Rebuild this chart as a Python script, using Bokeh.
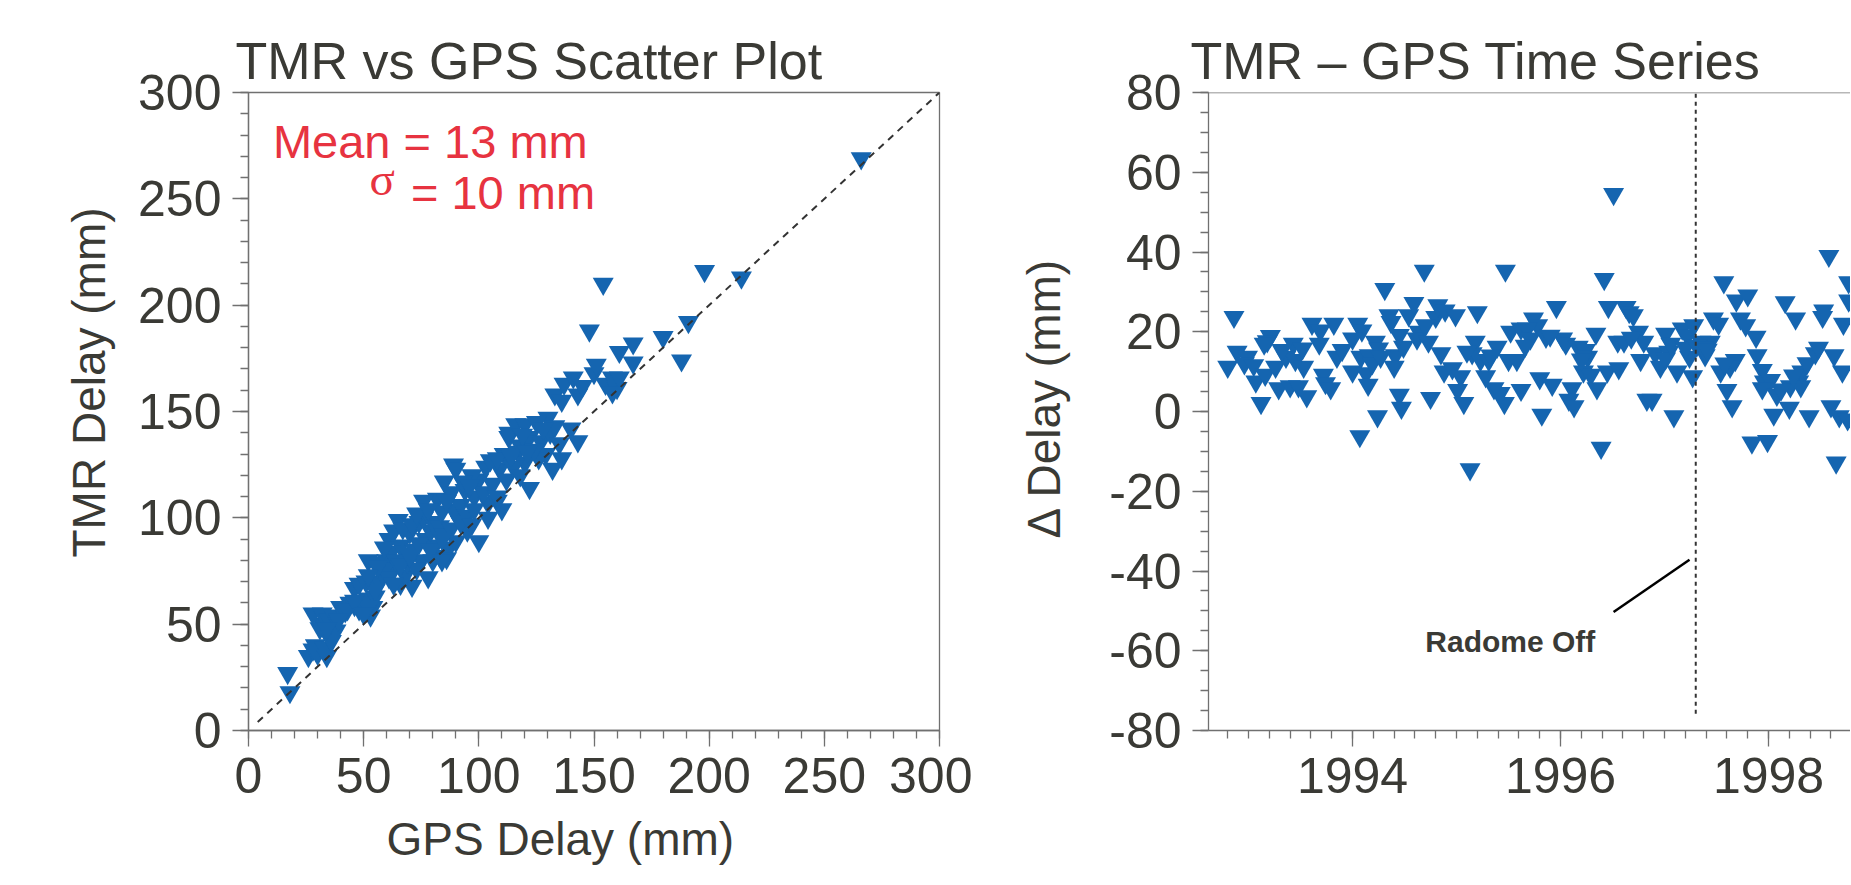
import math
from bokeh.plotting import figure
from bokeh.layouts import row
from bokeh.models import FixedTicker, Label, Span, Range1d, Title
from bokeh.embed import file_html
from bokeh.resources import INLINE

# ---------------- data: scatter (GPS vs TMR delay, mm) ----------------
gps_delay = [17, 18, 26, 28, 29, 30, 33, 34, 35, 32, 31, 28, 32, 35, 37, 38, 40, 42, 44, 46,
             48, 50, 53, 54, 52, 55, 46, 48, 51, 54, 57, 55, 52, 57, 60, 63, 58, 61, 66, 71,
             68, 63, 61, 65, 66, 70, 74, 77, 72, 75, 69, 73, 78, 80, 83, 81, 79, 76, 80, 83,
             85, 87, 86, 90, 88, 91, 89, 92, 82, 76, 84, 85, 89, 90, 88, 94, 95, 98, 100, 103,
             109, 97, 104, 110, 100, 104, 108, 95, 98, 102, 106, 108, 112, 111, 113, 113, 116, 120, 117, 118,
             122, 122, 127, 130, 131, 133, 129, 126, 120, 115, 118, 124, 135, 140, 143, 132, 136, 133, 136, 137,
             141, 143, 145, 150, 151, 155, 158, 160, 161, 158, 161, 167, 167, 148, 154, 180, 188, 191, 198, 214,
             266, 125, 128, 119, 62, 59, 67, 71, 73, 78, 86, 93, 96, 105, 108, 114, 121, 68, 64, 56,
             52, 43, 39, 36, 34, 74, 79, 84, 92, 97, 66, 70, 84, 63, 52, 46, 50]
tmr_delay = [27, 18, 35, 38, 40, 36, 39, 35, 44, 50, 48, 55, 55, 52, 54, 47, 58, 56, 60, 59,
             57, 60, 54, 58, 62, 63, 67, 69, 70, 69, 70, 66, 80, 79, 80, 76, 74, 72, 69, 68,
             73, 94, 90, 99, 87, 93, 98, 90, 85, 80, 79, 76, 72, 80, 82, 87, 94, 100, 98, 96,
             92, 86, 81, 89, 95, 100, 104, 106, 109, 108, 103, 117, 125, 123, 112, 113, 101, 110, 118, 124,
             123, 120, 107, 104, 89, 100, 108, 94, 104, 112, 116, 110, 118, 130, 138, 140, 144, 144, 131, 134,
             138, 114, 136, 147, 140, 143, 130, 128, 126, 124, 120, 132, 135, 142, 136, 123, 128, 158, 155, 163,
             166, 158, 162, 168, 172, 163, 166, 161, 166, 159, 178, 182, 173, 188, 210, 185, 174, 192, 216, 213,
             269, 145, 142, 139, 84, 86, 95, 97, 102, 104, 108, 117, 115, 127, 128, 129, 131, 83, 80, 77,
             73, 57, 52, 42, 48, 88, 85, 90, 98, 97, 78, 82, 80, 69, 58, 61, 55]

# ---------------- data: time series (TMR - GPS, mm) ----------------
ts_year = [1992.86, 1992.80, 1992.89, 1992.99, 1992.96, 1993.05, 1993.07, 1993.12, 1993.16, 1993.21,
           1993.18, 1993.26, 1993.29, 1993.36, 1993.43, 1993.40, 1993.48, 1993.45, 1993.53, 1993.56,
           1993.52, 1993.61, 1993.69, 1993.68, 1993.82, 1993.72, 1993.74, 1993.79, 1993.85, 1993.90,
           1994.00, 1994.05, 1994.09, 1994.00, 1994.08, 1994.13, 1994.15, 1994.07, 1994.16, 1994.22,
           1994.25, 1994.24, 1994.31, 1994.35, 1994.37, 1994.41, 1994.40, 1994.45, 1994.47, 1994.49,
           1994.54, 1994.59, 1994.69, 1994.64, 1994.62, 1994.73, 1994.75, 1994.80, 1994.82, 1994.85,
           1994.89, 1994.88, 1994.96, 1994.99, 1995.04, 1995.01, 1995.07, 1995.13, 1995.20, 1995.18,
           1995.15, 1995.23, 1995.28, 1995.31, 1995.36, 1995.39, 1995.46, 1995.42, 1995.47, 1995.50,
           1995.52, 1995.58, 1995.62, 1995.62, 1995.74, 1995.78, 1995.68, 1995.71, 1995.86, 1995.80,
           1995.82, 1995.92, 1995.96, 1996.02, 1996.05, 1996.11, 1996.08, 1996.13, 1996.17, 1996.24,
           1996.26, 1996.22, 1996.29, 1996.34, 1996.35, 1996.39, 1996.42, 1996.46, 1996.45, 1996.55,
           1996.61, 1996.56, 1996.63, 1996.66, 1996.70, 1996.75, 1996.80, 1996.77, 1996.83, 1996.88,
           1996.91, 1996.96, 1997.01, 1997.04, 1997.01, 1997.09, 1997.12, 1997.17, 1997.22, 1997.24,
           1997.27, 1997.28, 1997.35, 1997.39, 1997.47, 1997.44, 1997.52, 1997.57, 1997.54, 1997.60,
           1997.65, 1997.68, 1997.63, 1997.69, 1997.80, 1997.73, 1997.78, 1997.88, 1997.89, 1997.84,
           1997.99, 1997.94, 1997.96, 1998.02, 1997.94, 1998.05, 1998.08, 1998.16, 1998.20, 1998.21,
           1998.26, 1998.29, 1998.31, 1998.32, 1998.37, 1998.39, 1998.45, 1998.53, 1998.52, 1998.58,
           1998.60, 1998.63, 1998.65, 1998.68, 1998.71, 1998.72, 1998.77, 1998.77, 1998.76, 1996.51,
           1993.15, 1993.32, 1994.19, 1994.27, 1994.45, 1994.70, 1995.10, 1995.33, 1995.66, 1995.90,
           1996.20, 1996.68, 1997.06, 1997.20, 1997.31, 1997.37, 1997.41, 1997.58, 1998.12, 1998.24,
           1998.48]
ts_delta = [23.7, 11.2, 15.0, 13.7, 12.1, 11.6, 7.5, 2.1, 9.2, 18.9,
            17.6, 11.2, 5.8, 13.7, 17.0, 6.3, 6.3, 12.9, 11.2, 3.8,
            15.8, 22.0, 20.3, 17.0, 22.0, 9.2, 7.1, 5.8, 13.7, 15.4,
            10.0, 22.0, 20.3, 18.3, 13.7, 9.6, 6.7, -6.2, 14.1, 17.5,
            15.8, -1.2, 30.7, 24.1, 22.4, 14.1, 11.2, 4.2, 0.9, 16.2,
            24.1, 27.2, 35.3, 20.0, 18.3, 17.5, 3.4, 23.7, 26.6, 14.6,
            25.3, 10.0, 10.8, 24.1, 8.8, 5.4, 2.1, -14.5, 24.9, 17.5,
            14.6, 12.9, 8.8, 12.9, 5.8, 16.2, 2.1, 4.6, 35.3, 12.9,
            20.0, 12.9, 5.4, 20.8, 23.3, 21.6, 20.8, 18.3, 18.7, 8.3,
            -0.8, 6.7, 26.2, 18.3, 17.0, 5.8, 2.9, 1.3, 16.2, 15.4,
            13.7, 10.0, 9.2, 19.5, 5.8, -9.1, 33.2, 26.2, 10.0, 17.5,
            17.5, 10.8, 26.2, 24.9, 24.1, 20.0, 17.5, 12.9, 2.9, 2.9,
            14.6, 11.2, 19.5, 15.0, 13.3, -1.2, 10.0, 20.8, 19.1, 13.7,
            8.8, 21.6, 17.5, 14.1, 23.3, 17.5, 22.0, 32.4, 10.0, 5.4,
            1.3, 12.9, 11.2, 27.8, 29.1, 23.3, 21.6, 18.7, 14.1, -7.8,
            -7.4, 10.4, 7.5, 7.9, 5.8, -0.8, 4.2, 27.4, 0.9, 6.3,
            23.3, 7.5, 6.3, 10.0, 12.1, -1.2, 14.6, 25.3, 23.7, 39.0,
            1.3, 14.1, -12.8, -1.2, 10.0, 22.0, 32.4, 27.8, -2.0, 54.5,
            17.0, 15.4, 12.1, 13.7, 19.2, 21.6, 15.0, 14.0, 16.5, 19.0,
            13.0, 18.5, 17.0, 16.0, 16.5, 16.0, 15.5, 12.0, 5.5, 9.0,
            16.0]

scatter_ticks = [0, 50, 100, 150, 200, 250, 300]
scatter_minor = list(range(0, 301, 10))
ts_xticks = [1994, 1996, 1998]
ts_xminor = [round(1992.6 + 0.2 * i, 1) for i in range(32)]
ts_yticks = [-80, -60, -40, -20, 0, 20, 40, 60, 80]
ts_yminor = list(range(-80, 81, 5))
one_to_one = [4, 300]
radome_off_year = 1997.30

BLUE = "#1565b0"
RED = "#e73340"
TXT = "#3a3a35"
AX = "#707070"
DASH = "#333333"
FONT = "Liberation Sans"
TICK_FS = "50px"
LAB_FS = "46px"
TITLE_FS = "52px"

H = 884
TOP = 92
BOTTOM = 149
W1 = 972


def style_axes(p):
    for ax in p.axis:
        ax.axis_line_color = AX
        ax.axis_line_width = 1.3
        ax.major_tick_line_color = AX
        ax.minor_tick_line_color = AX
        ax.major_tick_line_width = 1.3
        ax.minor_tick_line_width = 1.3
        ax.major_tick_in = 0
        ax.major_tick_out = 16
        ax.minor_tick_in = 0
        ax.minor_tick_out = 8
        ax.major_label_text_font = FONT
        ax.major_label_text_font_size = TICK_FS
        ax.major_label_text_color = TXT
    p.xaxis.major_label_standoff = 11
    p.yaxis.major_label_standoff = 11
    p.xgrid.visible = False
    p.ygrid.visible = False


def style_title(t, size):
    t.text_font = FONT
    t.text_font_size = size
    t.text_font_style = "normal"
    t.text_color = TXT


# ---------------- left: scatter ----------------
p1 = figure(width=W1, height=H, output_backend="svg", toolbar_location=None,
            x_range=Range1d(0, 300), y_range=Range1d(0, 300),
            min_border_left=248, min_border_right=W1 - 248 - 691,
            min_border_top=TOP, min_border_bottom=BOTTOM)
p1.outline_line_color = AX
p1.outline_line_width = 1.3
p1.xaxis.ticker = FixedTicker(ticks=scatter_ticks, minor_ticks=scatter_minor)
p1.yaxis.ticker = FixedTicker(ticks=scatter_ticks, minor_ticks=scatter_minor)
style_axes(p1)

p1.title.text = "TMR vs GPS Scatter Plot"
p1.title.align = "left"
p1.title.offset = -13
p1.title.standoff = 6
style_title(p1.title, TITLE_FS)

t_xl = Title(text="GPS Delay (mm)", align="left", offset=138, standoff=35,
             vertical_align="top", text_line_height=0.6)
style_title(t_xl, LAB_FS)
p1.add_layout(t_xl, "below")
t_yl = Title(text="TMR Delay (mm)", align="left", offset=173, standoff=42)
style_title(t_yl, LAB_FS)
p1.add_layout(t_yl, "left")

p1.scatter(gps_delay, tmr_delay, marker="inverted_triangle", size=21,
           fill_color=BLUE, line_color=None)
p1.line(one_to_one, one_to_one, line_dash="7 6", line_width=2, line_color=DASH)

p1.add_layout(Label(x=10.6, y=277.0, text="Mean = 13 mm", text_font=FONT,
                    text_font_size="47px", text_color=RED, text_baseline="alphabetic"))
p1.add_layout(Label(x=52.5, y=259.4, text="σ", text_font="Liberation Serif",
                    text_font_size="47px", text_color=RED, text_baseline="alphabetic"))
p1.add_layout(Label(x=70.5, y=252.9, text="= 10 mm", text_font=FONT,
                    text_font_size="47px", text_color=RED, text_baseline="alphabetic"))

# ---------------- right: time series ----------------
p2 = figure(width=1850 - W1, height=H, output_backend="svg", toolbar_location=None,
            x_range=Range1d(1992.615, 1998.788), y_range=Range1d(-80, 80),
            min_border_left=1208 - W1, min_border_right=0,
            min_border_top=TOP, min_border_bottom=BOTTOM)
p2.outline_line_color = None
p2.xaxis.ticker = FixedTicker(ticks=ts_xticks, minor_ticks=ts_xminor)
p2.yaxis.ticker = FixedTicker(ticks=ts_yticks, minor_ticks=ts_yminor)
p2.yaxis.major_label_overrides = {v: str(v) for v in ts_yticks}
style_axes(p2)
p2.add_layout(Span(location=80, dimension="width", line_color=AX, line_width=1.3))

p2.title.text = "TMR – GPS Time Series"
p2.title.align = "left"
p2.title.offset = -18
p2.title.standoff = 6
style_title(p2.title, TITLE_FS)

t_yl2 = Title(text="Δ Delay (mm)", align="left", offset=192, standoff=73)
style_title(t_yl2, LAB_FS)
p2.add_layout(t_yl2, "left")

p2.scatter(ts_year, ts_delta, marker="inverted_triangle", size=21,
           fill_color=BLUE, line_color=None)
p2.line([radome_off_year, radome_off_year], [-75.8, 80], line_dash="4 4",
        line_width=2, line_color=DASH)
p2.line([1996.51, 1997.24], [-50.3, -37.2], line_width=2.5, line_color="black")

p2.add_layout(Label(x=1994.70, y=-57.7, text="Radome Off", text_font=FONT,
                    text_font_style="bold", text_font_size="30px", text_color=TXT,
                    text_baseline="alphabetic"))

layout = row(p1, p2)
open("out.html", "w").write(file_html(layout, INLINE))
